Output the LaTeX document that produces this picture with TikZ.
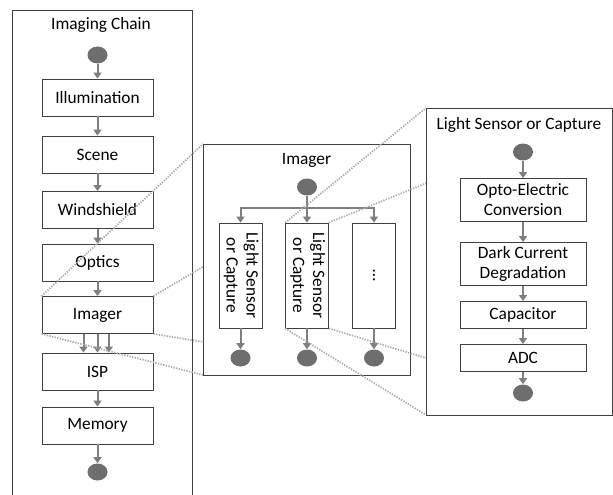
\documentclass[tikz,border=0pt]{standalone}
\usepackage{fontspec}
\setmainfont{Carlito}
\usepackage{xcolor}
\usetikzlibrary{arrows.meta,shapes.geometric,calc}
\definecolor{flowgray}{HTML}{7F7F7F}
\definecolor{dotgray}{HTML}{6E6E6E}
\definecolor{edgegray}{HTML}{404040}
\definecolor{zoomgray}{HTML}{ABABAB}
\tikzset{
  frame/.style={draw=edgegray, fill=white, line width=0.6pt},
  block/.style={draw=edgegray, fill=white, line width=0.6pt, align=center, inner sep=0pt},
  chainbox/.style={block, minimum width=83.25pt, minimum height=27.75pt},
  stagebox/.style={block, minimum width=94.5pt, minimum height=32.25pt},
  thinbox/.style={block, minimum width=94.5pt, minimum height=20.25pt},
  sensorbox/.style={block, minimum width=32.25pt, minimum height=78.75pt},
  terminal/.style={ellipse, fill=dotgray, draw=none, minimum width=15pt, minimum height=12.75pt, inner sep=0pt},
  flow/.style={-{Triangle[width=6pt,length=4.5pt]}, line width=1.5pt, draw=flowgray},
  flowline/.style={line width=1.5pt, draw=flowgray},
  zoomline/.style={line width=1.3pt, draw=zoomgray, dash pattern=on 1pt off 1pt},
}

\begin{document}
\begin{tikzpicture}[x=0.75pt, y=-0.75pt, font=\fontsize{13}{15}\selectfont]

  \useasboundingbox (0,0) rectangle (613,495);
  \clip (0,0) rectangle (613,495);

  % imaging chain
  \coordinate (chainNW) at (12,10);
  \coordinate (chainSE) at (192,505);
  \draw[frame] (chainNW) rectangle (chainSE);
  \node (chaintitle) at (101,25) {Imaging Chain};

  \node[terminal] (chainstart) at (97.5,55) {};
  \node[chainbox] (illum) at (97.5,97.5) {Illumination};
  \node[chainbox] (scene) at (97.5,154.5) {Scene};
  \node[chainbox] (shield) at (97.5,210) {Windshield};
  \node[chainbox] (optics) at (97.5,262.5) {Optics};
  \node[chainbox] (imager) at (97.5,315) {Imager};
  \node[chainbox] (isp) at (97.5,371.5) {ISP};
  \node[chainbox] (memory) at (97.5,425.5) {Memory};
  \node[terminal] (chainend) at (97.5,472) {};

  \draw[flow] (chainstart) -- (illum);
  \draw[flow] (illum) -- (scene);
  \draw[flow] (scene) -- (shield);
  \draw[flow] (shield) -- (optics);
  \draw[flow] (optics) -- (imager);
  \foreach \dx in {-10.5,0,8.5}
    \draw[flow] ([xshift=\dx pt]imager.south) -- ([xshift=\dx pt]isp.north);
  \draw[flow] (isp) -- (memory);
  \draw[flow] (memory) -- (chainend);

  % zoom onto the imager
  \coordinate (imgNW) at (203,144);
  \coordinate (imgNE) at (410,144);
  \coordinate (imgSW) at (203,375);
  \coordinate (imgSE) at (410,375);
  \draw[zoomline] (imager.north west) -- (imgNW);
  \draw[zoomline] (imager.north east) -- (imgNE);
  \draw[zoomline] (imager.south west) -- (imgSW);
  \draw[zoomline] (imager.south east) -- (imgSE);

  % imager
  \draw[frame] (imgNW) rectangle (imgSE);
  \node (imgtitle) at (306.5,160) {Imager};
  \node[terminal] (split) at (307,187) {};
  \coordinate (fork) at (307,208);

  \node[sensorbox] (sensA) at (240.5,275.5)
    {\rotatebox[origin=c]{-90}{\begin{tabular}{@{}c@{}}Light Sensor\\or Capture\end{tabular}}};
  \node[sensorbox] (sensB) at (307,275.5)
    {\rotatebox[origin=c]{-90}{\begin{tabular}{@{}c@{}}Light Sensor\\or Capture\end{tabular}}};
  \node[sensorbox] (sensC) at (374,275.5) {\rotatebox[origin=c]{-90}{\ldots}};

  \node[terminal] (endA) at (240.5,358) {};
  \node[terminal] (endB) at (307,358) {};
  \node[terminal] (endC) at (374,358) {};

  \draw[flowline] (split) -- (fork);
  \draw[flow] (fork) -| (sensA.north);
  \draw[flow] (fork) -- (sensB.north);
  \draw[flow] (fork) -| (sensC.north);
  \draw[flow] (sensA) -- (endA);
  \draw[flow] (sensB) -- (endB);
  \draw[flow] (sensC) -- (endC);

  % zoom onto one light sensor
  \coordinate (capNW) at (426,108);
  \coordinate (capNE) at (612,108);
  \coordinate (capSW) at (426,415);
  \coordinate (capSE) at (612,415);
  \draw[zoomline] (sensB.north west) -- (capNW);
  \draw[zoomline] (sensB.north east) -- (capNE);
  \draw[zoomline] (sensB.south west) -- (capSW);
  \draw[zoomline] (sensB.south east) -- (capSE);

  % light sensor or capture
  \draw[frame] (capNW) rectangle (capSE);
  \node (captitle) at (519,125) {Light Sensor or Capture};
  \node[terminal] (capstart) at (523,152) {};
  \node[stagebox] (opto) at (523,200) {Opto-Electric\\Conversion};
  \node[stagebox] (dark) at (523,264) {Dark Current\\Degradation};
  \node[thinbox] (capacitor) at (523,315) {Capacitor};
  \node[thinbox] (adc) at (523,358) {ADC};
  \node[terminal] (capend) at (523,393) {};

  \draw[flow] (capstart) -- (opto);
  \draw[flow] (opto) -- (dark);
  \draw[flow] (dark) -- (capacitor);
  \draw[flow] (capacitor) -- (adc);
  \draw[flow] (adc) -- (capend);

\end{tikzpicture}
\end{document}
